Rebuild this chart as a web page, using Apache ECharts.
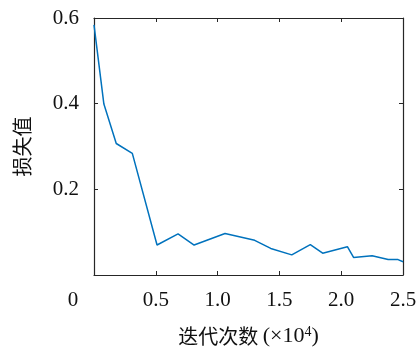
<!DOCTYPE html>
<html>
<head>
<meta charset="utf-8">
<script src="https://cdn.jsdelivr.net/npm/echarts@6/dist/echarts.min.js"></script>
<style>
  html, body { margin: 0; padding: 0; background: #fff; }
  #chart { width: 419px; height: 347px; }
</style>
</head>
<body>
<div id="chart"></div>
<script>
// iterations in units of 10^4, loss values
const iters = [0, 0.08, 0.18, 0.31, 0.51, 0.68, 0.81, 1.06, 1.30, 1.43, 1.60, 1.75, 1.85, 2.05, 2.10, 2.25, 2.38, 2.46, 2.50];
const loss = [0.584, 0.399, 0.307, 0.284, 0.070, 0.096, 0.070, 0.097, 0.081, 0.062, 0.047, 0.071, 0.051, 0.066, 0.041, 0.045, 0.036, 0.036, 0.031];
const xTicks = [0, 0.5, 1.0, 1.5, 2.0, 2.5];
const yTicks = [0.2, 0.4, 0.6];

const serif = '"Liberation Serif", "DejaVu Serif", serif';
const cjk = '"Noto Sans CJK SC", sans-serif';
const axisColor = '#262626';

const chart = echarts.init(document.getElementById('chart'));

const points = iters.map((x, i) => [x, loss[i]]);

const baseX = {
  type: 'value', min: 0, max: 2.5, interval: 0.5,
  axisLine: { show: true, onZero: false, lineStyle: { color: axisColor, width: 1.2 } },
  axisTick: { show: true, inside: true, length: 4, lineStyle: { color: axisColor } },
  splitLine: { show: false }
};
const baseY = {
  type: 'value', min: 0, max: 0.6, interval: 0.2,
  axisLine: { show: true, onZero: false, lineStyle: { color: axisColor, width: 1.2 } },
  axisTick: { show: true, inside: true, length: 4, lineStyle: { color: axisColor } },
  splitLine: { show: false }
};

chart.setOption({
  animation: false,
  backgroundColor: '#fff',
  grid: { left: 94, top: 18, right: 16, bottom: 72, containLabel: false, outerBoundsMode: 'none' },
  xAxis: [
    Object.assign({}, baseX, {
      position: 'bottom',
      name: '{c|迭代次数 }{s|(×10}{sup|4}{s|)}',
      nameLocation: 'middle',
      nameGap: 50,
      nameTextStyle: {
        fontSize: 20, color: '#111',
        rich: {
          c: { fontFamily: cjk, fontSize: 20, color: '#111' },
          s: { fontFamily: serif, fontSize: 22, color: '#111' },
          sup: { fontFamily: serif, fontSize: 14, color: '#111', verticalAlign: 'top', padding: [0, 0, 8, 0] }
        }
      },
      axisLabel: {
        margin: 15,
        fontFamily: serif, fontSize: 21, color: '#111',
        formatter: v => {
          if (!xTicks.some(t => Math.abs(t - v) < 1e-9)) return '';
          return v === 0 ? '{z|0}' : v.toFixed(1);
        },
        rich: { z: { fontFamily: serif, fontSize: 21, color: '#111', padding: [0, 42, 0, 0] } }
      }
    }),
    Object.assign({}, baseX, { position: 'top', axisLabel: { show: false } })
  ],
  yAxis: [
    Object.assign({}, baseY, {
      position: 'left',
      name: '损失值',
      nameLocation: 'middle',
      nameGap: 62,
      nameTextStyle: { fontFamily: cjk, fontSize: 20, color: '#111' },
      axisLabel: {
        margin: 15,
        fontFamily: serif, fontSize: 21, color: '#111',
        formatter: v => yTicks.some(t => Math.abs(t - v) < 1e-9) ? v.toFixed(1) : ''
      }
    }),
    Object.assign({}, baseY, { position: 'right', axisLabel: { show: false } })
  ],
  series: [{
    type: 'line',
    data: points,
    showSymbol: false,
    lineStyle: { color: '#0072BD', width: 1.5 },
    itemStyle: { color: '#0072BD' }
  }]
});
</script>
</body>
</html>
